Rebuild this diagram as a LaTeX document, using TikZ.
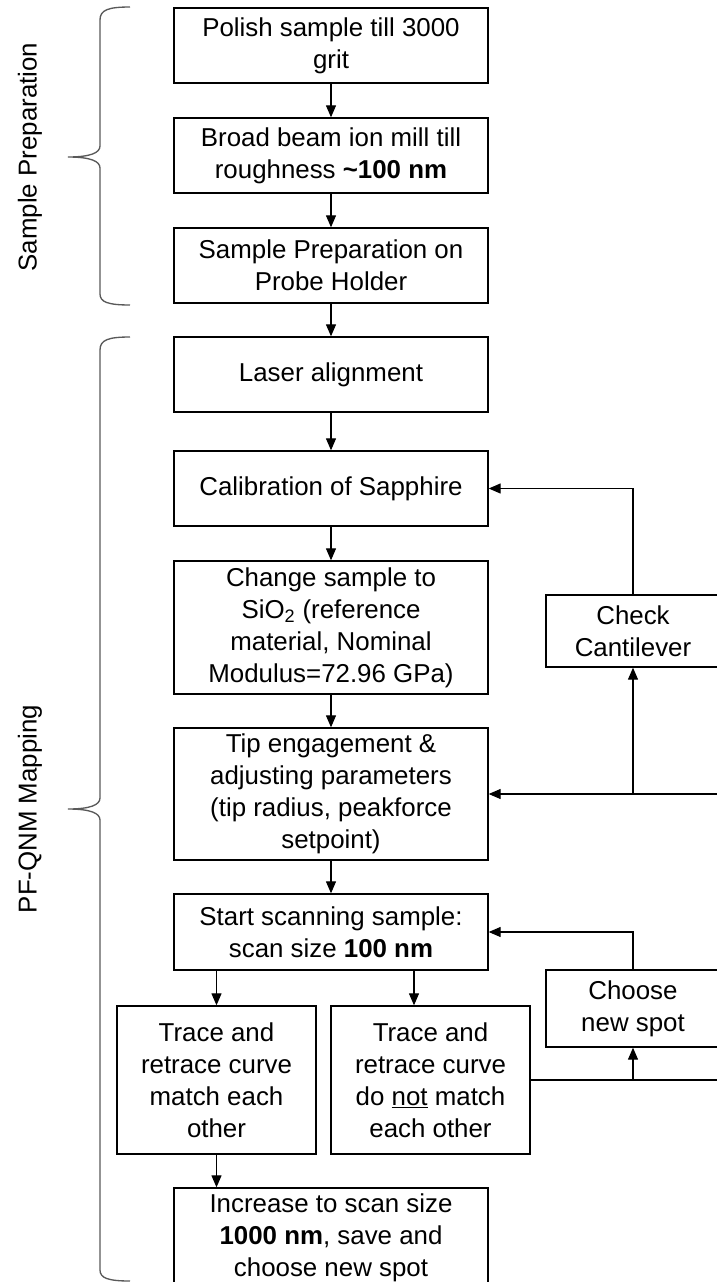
\documentclass[tikz,border=0pt]{standalone}
\usepackage{fontspec}
\setmainfont{Liberation Sans}
\usetikzlibrary{arrows.meta}

\begin{document}
\begin{tikzpicture}[x=0.75pt,y=-0.75pt,
  font=\fontsize{19.4}{24}\selectfont,
  stepbox/.style={draw, line width=1pt, align=center, inner sep=0pt,
    minimum width=235.5pt, minimum height=56.25pt},
  sidebox/.style={stepbox, minimum width=130.5pt},
  flow/.style={-{Triangle[length=9pt,width=7.5pt]}, line width=0.9pt},
  bracket/.style={line width=1pt, gray!70!black}]
  \useasboundingbox (0,0) rectangle (717,1282);

  % sample preparation
  \node[stepbox] (polish) at (331,45.5) {Polish sample till 3000\\grit};
  \node[stepbox] (mill) at (331,155.5) {Broad beam ion mill till\\roughness \textbf{\textasciitilde100 nm}};
  \node[stepbox] (holder) at (331,265.5) {Sample Preparation on\\Probe Holder};

  % PF-QNM mapping
  \node[stepbox] (laser) at (331,374.5) {Laser alignment};
  \node[stepbox] (calib) at (331,488.5) {Calibration of Sapphire};
  \node[stepbox, minimum height=99.75pt] (change) at (331,627.5)
    {Change sample to\\SiO\textsubscript{2} (reference\\material, Nominal\\Modulus=72.96 GPa)};
  \node[stepbox, minimum height=99pt] (tip) at (331,794)
    {Tip engagement \&\\adjusting parameters\\(tip radius, peakforce\\setpoint)};
  \node[stepbox, minimum height=57pt] (scan) at (331,932)
    {Start scanning sample:\\scan size \textbf{100 nm}};
  \node[stepbox, minimum width=149.25pt, minimum height=111pt] (match) at (216.5,1080)
    {Trace and\\retrace curve\\match each\\other};
  \node[stepbox, minimum width=149.25pt, minimum height=111pt] (nomatch) at (430.5,1080)
    {Trace and\\retrace curve\\do \underline{not} match\\each other};
  \node[stepbox, minimum height=75pt] (increase) at (331,1238)
    {Increase to scan size\\\textbf{1000 nm}, save and\\choose new spot};
  \node[sidebox, minimum height=54pt] (cantilever) at (633,631) {Check\\Cantilever};
  \node[sidebox, minimum height=57.75pt] (newspot) at (633,1008.5) {Choose\\new spot};

  \coordinate (loopin) at (725,794);
  \coordinate (loopout) at (725,1080);

  % main flow
  \draw[flow] (polish) -- (mill);
  \draw[flow] (mill) -- (holder);
  \draw[flow] (holder) -- (laser);
  \draw[flow] (laser) -- (calib);
  \draw[flow] (calib) -- (change);
  \draw[flow] (change) -- (tip);
  \draw[flow] (tip) -- (scan);
  \draw[flow] (scan.south -| match) -- (match);
  \draw[flow] ([xshift=62.25pt]scan.south) -- ([xshift=62.25pt]scan.south |- nomatch.north);
  \draw[flow] (match.south) -- (match.south |- increase.north);

  % loops on the right
  \draw[flow] (loopin) -- (tip.east);
  \draw[flow] (cantilever.south |- tip.east) -- (cantilever.south);
  \draw[flow] (cantilever.north) |- (calib.east);
  \draw[line width=0.9pt] (nomatch.east) -- (loopout);
  \draw[flow] (newspot.south |- nomatch.east) -- (newspot.south);
  \draw[flow] (newspot.north) |- (scan.east);

  % braces
  \draw[bracket] (130,7) .. controls (108,7) and (100,10) .. (100,20) -- (100,146)
    .. controls (100,153) and (90,157) .. (68,157)
    .. controls (90,157) and (100,161) .. (100,168) -- (100,294)
    .. controls (100,302) and (108,305) .. (130,305);
  \draw[bracket] (130,337) .. controls (108,337) and (100,340) .. (100,350) -- (100,798)
    .. controls (100,805) and (90,809) .. (68,809)
    .. controls (90,809) and (100,813) .. (100,820) -- (100,1270)
    .. controls (100,1278) and (108,1281) .. (130,1281);
  \node[rotate=90] (preplabel) at (30,157) {Sample Preparation};
  \node[rotate=90] (maplabel) at (30,809) {PF-QNM Mapping};
\end{tikzpicture}
\end{document}
